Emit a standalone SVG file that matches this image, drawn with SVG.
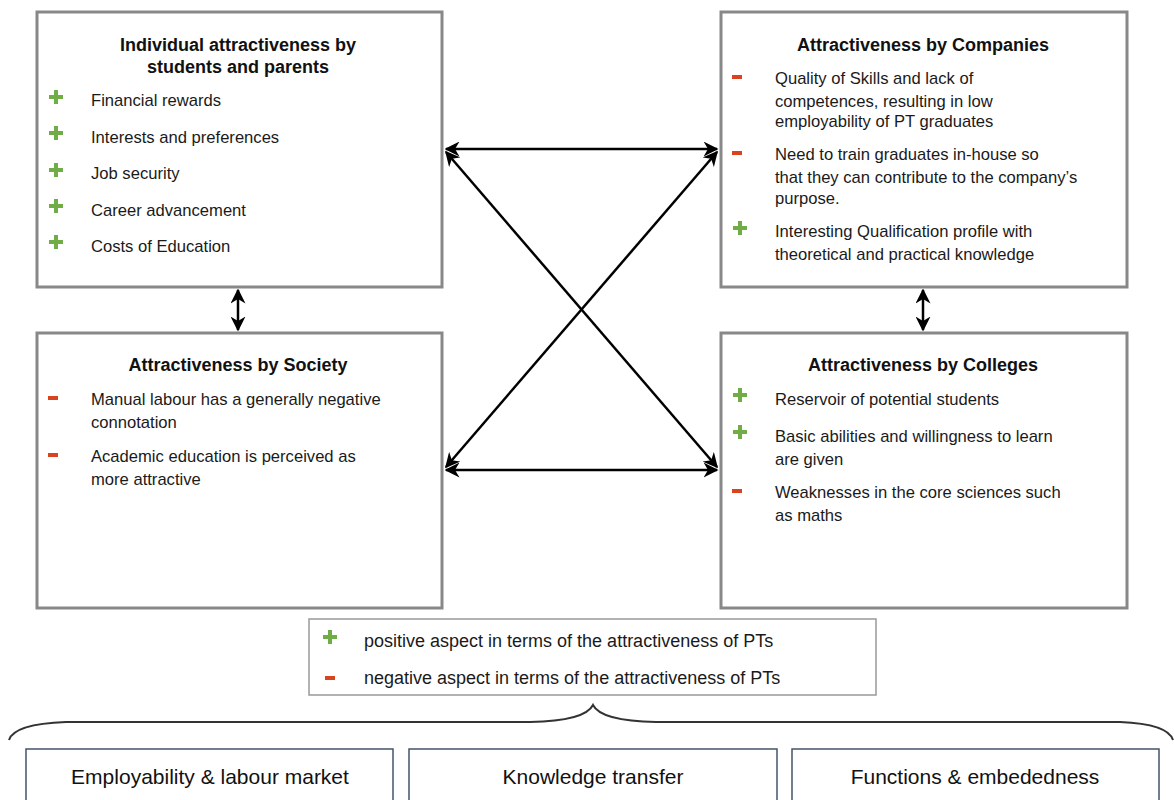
<svg xmlns="http://www.w3.org/2000/svg" width="1174" height="800" viewBox="0 0 1174 800">
<defs>
<style>
.box{fill:#fff;stroke:#888;stroke-width:3}
.title{font-family:"Liberation Sans",Arial,sans-serif;font-size:18px;font-weight:bold;fill:#111;text-anchor:middle}
.item{font-family:"Liberation Sans",Arial,sans-serif;font-size:16.6px;fill:#1a1a1a}
.leg{font-family:"Liberation Sans",Arial,sans-serif;font-size:18px;fill:#1a1a1a}
.plus{stroke:#70ad47;stroke-width:4;fill:none}
.minus{fill:#d9441e}
.conn{stroke:#000;stroke-width:2.5;fill:none;marker-start:url(#ah);marker-end:url(#ah)}
.bbox{fill:#fff;stroke:#44546a;stroke-width:1.5}
.btext{font-family:"Liberation Sans",Arial,sans-serif;font-size:21px;fill:#111;text-anchor:middle}
</style>
<marker id="ah" viewBox="0 0 10 10" refX="9" refY="5" markerWidth="6" markerHeight="6" orient="auto-start-reverse" markerUnits="strokeWidth">
<path d="M0,0 L10,5 L0,10 L3,5 Z" fill="#000"/>
</marker>
<path id="p" d="M-7,0 H7 M0,-7 V7"/>
</defs>
<rect width="1174" height="800" fill="#fff"/>

<g id="connectors">
<line class="conn" x1="446" y1="149" x2="717" y2="149"/>
<line class="conn" x1="446" y1="470" x2="717" y2="470"/>
<line class="conn" x1="446" y1="152" x2="717" y2="467"/>
<line class="conn" x1="717" y1="152" x2="446" y2="467"/>
<line class="conn" x1="238" y1="290" x2="238" y2="330"/>
<line class="conn" x1="923" y1="290" x2="923" y2="330"/>
</g>

<g id="node-individual">
<rect class="box" x="37" y="12" width="405" height="275"/>
<text class="title" x="238" y="51">Individual attractiveness by</text>
<text class="title" x="238" y="73">students and parents</text>
<use href="#p" class="plus" x="56" y="97"/>
<text class="item" x="91" y="106">Financial rewards</text>
<use href="#p" class="plus" x="56" y="133"/>
<text class="item" x="91" y="143">Interests and preferences</text>
<use href="#p" class="plus" x="56" y="170"/>
<text class="item" x="91" y="179">Job security</text>
<use href="#p" class="plus" x="56" y="206"/>
<text class="item" x="91" y="216">Career advancement</text>
<use href="#p" class="plus" x="56" y="242"/>
<text class="item" x="91" y="252">Costs of Education</text>
</g>

<g id="node-companies">
<rect class="box" x="721" y="12" width="406" height="275"/>
<text class="title" x="923" y="51">Attractiveness by Companies</text>
<rect class="minus" x="732" y="75" width="10" height="4"/>
<text class="item" x="775" y="84">Quality of Skills and lack of</text>
<text class="item" x="775" y="107">competences, resulting in low</text>
<text class="item" x="775" y="127">employability of PT graduates</text>
<rect class="minus" x="732" y="151" width="10" height="4"/>
<text class="item" x="775" y="160">Need to train graduates in-house so</text>
<text class="item" x="775" y="183">that they can contribute to the company’s</text>
<text class="item" x="775" y="204">purpose.</text>
<use href="#p" class="plus" x="740" y="228"/>
<text class="item" x="775" y="237">Interesting Qualification profile with</text>
<text class="item" x="775" y="260">theoretical and practical knowledge</text>
</g>

<g id="node-society">
<rect class="box" x="37" y="333" width="405" height="275"/>
<text class="title" x="238" y="371">Attractiveness by Society</text>
<rect class="minus" x="48" y="396" width="10" height="4"/>
<text class="item" x="91" y="405">Manual labour has a generally negative</text>
<text class="item" x="91" y="428">connotation</text>
<rect class="minus" x="48" y="453" width="10" height="4"/>
<text class="item" x="91" y="462">Academic education is perceived as</text>
<text class="item" x="91" y="485">more attractive</text>
</g>

<g id="node-colleges">
<rect class="box" x="721" y="333" width="406" height="275"/>
<text class="title" x="923" y="371">Attractiveness by Colleges</text>
<use href="#p" class="plus" x="740" y="395"/>
<text class="item" x="775" y="405">Reservoir of potential students</text>
<use href="#p" class="plus" x="740" y="432"/>
<text class="item" x="775" y="442">Basic abilities and willingness to learn</text>
<text class="item" x="775" y="465">are given</text>
<rect class="minus" x="732" y="489" width="10" height="4"/>
<text class="item" x="775" y="498">Weaknesses in the core sciences such</text>
<text class="item" x="775" y="521">as maths</text>
</g>

<g id="legend">
<rect x="309" y="619" width="567" height="76" fill="#fff" stroke="#999" stroke-width="1.5"/>
<use href="#p" class="plus" x="330" y="637"/>
<text class="leg" x="364" y="647">positive aspect in terms of the attractiveness of PTs</text>
<rect class="minus" x="325" y="676" width="10" height="4"/>
<text class="leg" x="364" y="684">negative aspect in terms of the attractiveness of PTs</text>
</g>

<g id="brace">
<path d="M9,740 Q14,724 66,722 L530,722 Q585,721 593,705 Q601,721 656,722 L1120,722 Q1168,724 1173,740" fill="none" stroke="#333" stroke-width="2"/>
</g>

<g id="node-employability">
<rect class="bbox" x="26" y="749" width="367" height="60"/>
<text class="btext" x="210" y="784">Employability &amp; labour market</text>
</g>
<g id="node-knowledge">
<rect class="bbox" x="409" y="749" width="368" height="60"/>
<text class="btext" x="593" y="784">Knowledge transfer</text>
</g>
<g id="node-functions">
<rect class="bbox" x="792" y="749" width="367" height="60"/>
<text class="btext" x="975" y="784">Functions &amp; embededness</text>
</g>
</svg>
